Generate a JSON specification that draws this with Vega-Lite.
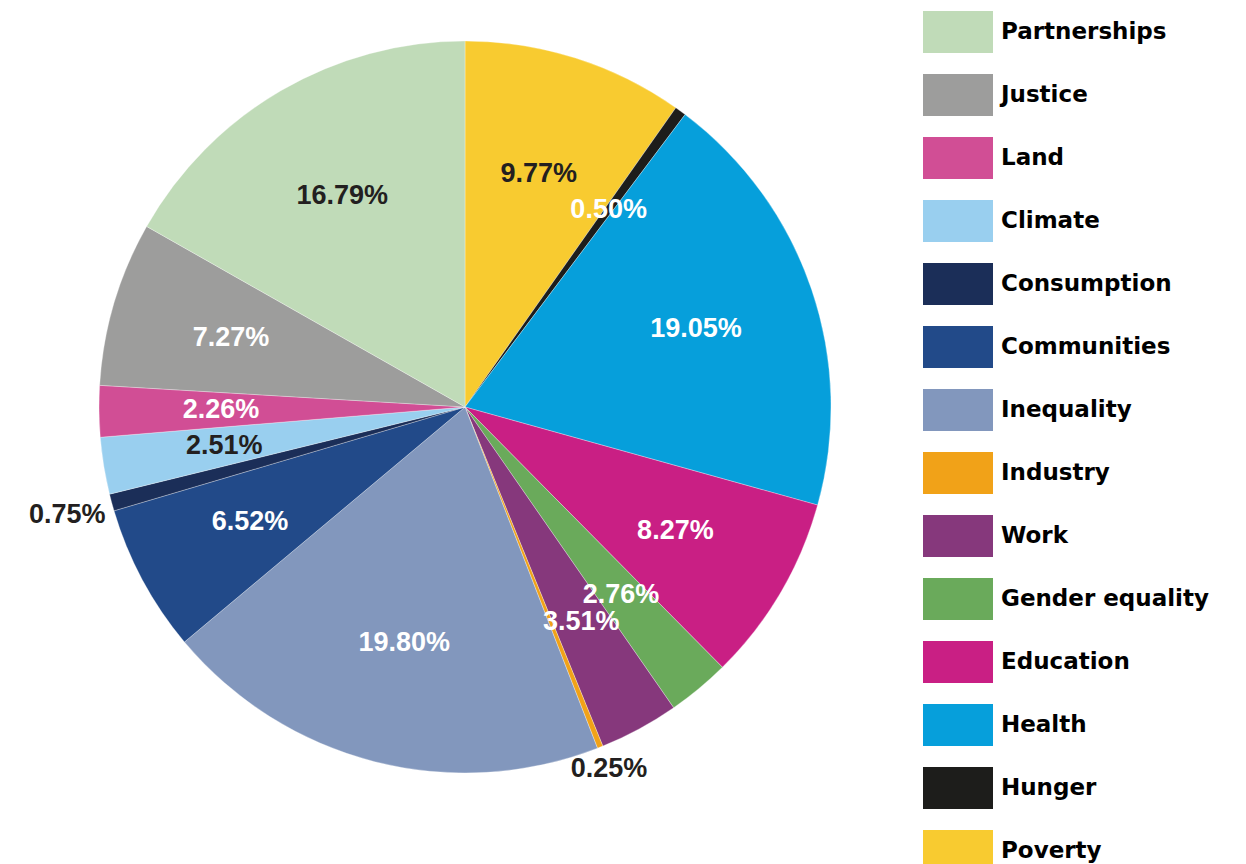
{
  "$schema": "https://vega.github.io/schema/vega-lite/v6.json",
  "width": 930,
  "height": 814,
  "autosize": "none",
  "padding": {"left": 0, "top": 0, "right": 316, "bottom": 50},
  "background": "white",
  "config": {"view": {"stroke": null}},
  "data": {
    "values": [
      {"order": 1, "name": "Poverty", "share": 0.0977},
      {"order": 2, "name": "Hunger", "share": 0.0050},
      {"order": 3, "name": "Health", "share": 0.1905},
      {"order": 4, "name": "Education", "share": 0.0827},
      {"order": 5, "name": "Gender equality", "share": 0.0276},
      {"order": 6, "name": "Work", "share": 0.0351},
      {"order": 7, "name": "Industry", "share": 0.0025},
      {"order": 8, "name": "Inequality", "share": 0.1980},
      {"order": 9, "name": "Communities", "share": 0.0652},
      {"order": 10, "name": "Consumption", "share": 0.0075},
      {"order": 11, "name": "Climate", "share": 0.0251},
      {"order": 12, "name": "Land", "share": 0.0226},
      {"order": 13, "name": "Justice", "share": 0.0727},
      {"order": 14, "name": "Partnerships", "share": 0.1679}
    ]
  },
  "encoding": {
    "theta": {"field": "share", "type": "quantitative", "stack": true},
    "order": {"field": "order", "type": "quantitative"}
  },
  "layer": [
    {
      "mark": {"type": "arc", "outerRadius": 366, "stroke": "white", "strokeWidth": 0.3},
      "encoding": {
        "color": {
          "field": "name",
          "type": "nominal",
          "scale": {
            "domain": ["Partnerships", "Justice", "Land", "Climate", "Consumption", "Communities", "Inequality", "Industry", "Work", "Gender equality", "Education", "Health", "Hunger", "Poverty"],
            "range": ["#c0dbb8", "#9d9d9c", "#d14e95", "#99cfef", "#1b2e58", "#224a89", "#8297bd", "#f1a218", "#86387c", "#6aaa5b", "#c91f84", "#069fdb", "#1d1d1b", "#f8cb30"]
          },
          "legend": {
            "orient": "none",
            "legendX": 923,
            "legendY": -3,
            "title": null,
            "symbolType": "M-1,-0.6H1V0.6H-1Z",
            "symbolSize": 4900,
            "symbolStrokeWidth": 0,
            "symbolOpacity": 1,
            "labelFont": "DejaVu Sans",
            "labelFontWeight": "bold",
            "labelFontSize": 23,
            "labelColor": "#000000",
            "labelOffset": 8,
            "labelLimit": 320,
            "rowPadding": 7
          }
        }
      }
    },
    {
      "mark": {"type": "text", "radius": 244, "font": "Liberation Sans", "fontWeight": "bold", "fontSize": 27},
      "encoding": {
        "text": {
          "field": "share",
          "type": "quantitative",
          "format": ".2%",
          "condition": {"test": "datum.name === 'Industry' || datum.name === 'Consumption'", "value": ""}
        },
        "color": {
          "condition": {"test": "datum.name === 'Partnerships' || datum.name === 'Poverty' || datum.name === 'Climate'", "value": "#231f20"},
          "value": "#ffffff"
        }
      }
    },
    {
      "mark": {"type": "text", "radius": 412, "font": "Liberation Sans", "fontWeight": "bold", "fontSize": 27, "color": "#231f20"},
      "encoding": {
        "text": {
          "field": "share",
          "type": "quantitative",
          "format": ".2%",
          "condition": {"test": "datum.name !== 'Consumption'", "value": ""}
        }
      }
    },
    {
      "mark": {"type": "text", "radius": 390, "font": "Liberation Sans", "fontWeight": "bold", "fontSize": 27, "color": "#231f20"},
      "encoding": {
        "text": {
          "field": "share",
          "type": "quantitative",
          "format": ".2%",
          "condition": {"test": "datum.name !== 'Industry'", "value": ""}
        }
      }
    }
  ]
}
